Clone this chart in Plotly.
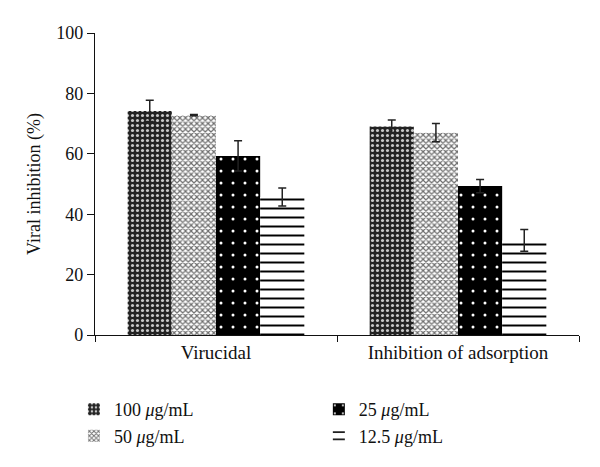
import plotly.graph_objects as go

categories = ["Virucidal", "Inhibition of adsorption"]
series_names = ["100 <i>μ</i>g/mL", "50 <i>μ</i>g/mL", "25 <i>μ</i>g/mL", "12.5 <i>μ</i>g/mL"]
vals_100 = [74.2, 69.0]
vals_50 = [72.8, 67.0]
vals_25 = [59.3, 49.3]
vals_12 = [45.7, 31.3]
err_100 = [3.5, 2.2]
err_50 = [0.2, 3.0]
err_25 = [5.0, 2.2]
err_12 = [3.0, 3.6]
y_ticks = [0, 20, 40, 60, 80, 100]

FONT = "Liberation Serif, Times New Roman, serif"

styles = [
    dict(bg="#222222", fg="#c8c8c8", shape=".", size=5, solidity=0.3),
    dict(bg="#ffffff", fg="#6e6e6e", shape="x", size=4, solidity=0.5),
    dict(bg="#000000", fg="#ffffff", shape=".", size=12, solidity=0.05),
    dict(bg="#ffffff", fg="#000000", shape="-", size=9, solidity=0.22),
]
data = [(vals_100, err_100), (vals_50, err_50), (vals_25, err_25), (vals_12, err_12)]
legends = ["legend", "legend", "legend2", "legend2"]

fig = go.Figure()
for name, (v, e), st, lg in zip(series_names, data, styles, legends):
    fig.add_trace(go.Bar(
        x=categories, y=v, name=name, legend=lg,
        marker=dict(color=st["bg"], line=dict(width=0),
                    pattern=dict(shape=st["shape"], fgcolor=st["fg"], bgcolor=st["bg"],
                                 size=st["size"], solidity=st["solidity"], fillmode="replace")),
        error_y=dict(type="data", array=e, visible=True, color="#222", thickness=1.5, width=4),
    ))

fig.update_layout(
    width=592, height=459,
    margin=dict(l=87, r=21, t=25, b=132, autoexpand=False),
    paper_bgcolor="white", plot_bgcolor="white",
    barmode="group", bargap=0.27, bargroupgap=0,
    font=dict(family=FONT, size=18, color="#111"),
    legend=dict(x=-0.0435, y=-0.186, xanchor="left", yanchor="top", bgcolor="rgba(0,0,0,0)",
                font=dict(size=18), itemwidth=30, tracegroupgap=0),
    legend2=dict(x=0.4625, y=-0.186, xanchor="left", yanchor="top", bgcolor="rgba(0,0,0,0)",
                 font=dict(size=18), itemwidth=30, tracegroupgap=0),
)
fig.update_xaxes(showline=True, linecolor="#111", linewidth=1.2, ticks="outside",
                 tickson="boundaries", ticklen=6, tickcolor="#111", showgrid=False,
                 tickfont=dict(size=19))
fig.update_yaxes(range=[0, 100], tickvals=y_ticks, showline=True, linecolor="#111",
                 linewidth=1.2, ticks="outside", ticklen=7, tickcolor="#111", showgrid=False,
                 zeroline=False, tickfont=dict(size=18),
                 title=dict(text="Viral inhibition (%)", font=dict(size=18), standoff=10))

fig.write_html("out.html")
